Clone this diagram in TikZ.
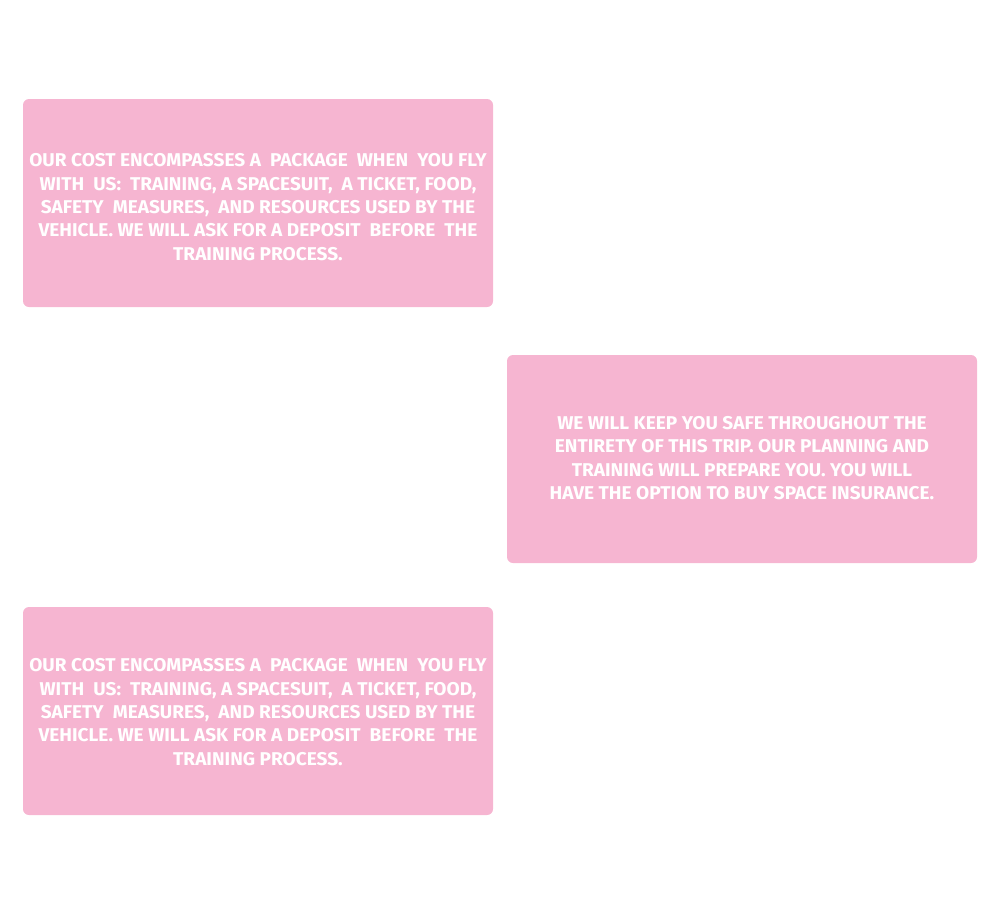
\documentclass[tikz,border=0pt]{standalone}
\usepackage{fontspec}
\setmainfont{Fira Sans}[FakeStretch=1.03]
\definecolor{boxpink}{RGB}{246,181,209}
\newcommand{\dsp}{\ \ }
\begin{document}
\begin{tikzpicture}[x=1pt,y=-1pt,
  infobox/.style={fill=boxpink, draw=none, rounded corners=6pt, minimum width=470pt, minimum height=208pt, inner sep=0pt},
  infotext/.style={text=white, align=center, font=\fontsize{18.5}{23.4}\selectfont\bfseries, inner sep=0pt}]
\useasboundingbox (0,0) rectangle (1000,900);
\node[infobox] (b1) at (258,203) {};
\node[infotext] (t1) at ([yshift=-4pt]b1.center) {OUR COST ENCOMPASSES A\dsp PACKAGE\dsp WHEN\dsp YOU FLY\\WITH\dsp US:\dsp TRAINING, A SPACESUIT,\dsp A TICKET, FOOD,\\SAFETY\dsp MEASURES,\dsp AND RESOURCES USED BY THE\\VEHICLE. WE WILL ASK FOR A DEPOSIT\dsp BEFORE\dsp THE\\TRAINING PROCESS.};
\node[infobox] (b2) at (742,459) {};
\node[infotext] (t2) at ([yshift=1pt]b2.center) {WE WILL KEEP YOU SAFE THROUGHOUT THE\\ENTIRETY OF THIS TRIP. OUR PLANNING AND\\TRAINING WILL PREPARE YOU. YOU WILL\\HAVE THE OPTION TO BUY SPACE INSURANCE.};
\node[infobox] (b3) at (258,711) {};
\node[infotext] (t3) at ([yshift=-1pt]b3.center) {OUR COST ENCOMPASSES A\dsp PACKAGE\dsp WHEN\dsp YOU FLY\\WITH\dsp US:\dsp TRAINING, A SPACESUIT,\dsp A TICKET, FOOD,\\SAFETY\dsp MEASURES,\dsp AND RESOURCES USED BY THE\\VEHICLE. WE WILL ASK FOR A DEPOSIT\dsp BEFORE\dsp THE\\TRAINING PROCESS.};
\end{tikzpicture}
\end{document}
